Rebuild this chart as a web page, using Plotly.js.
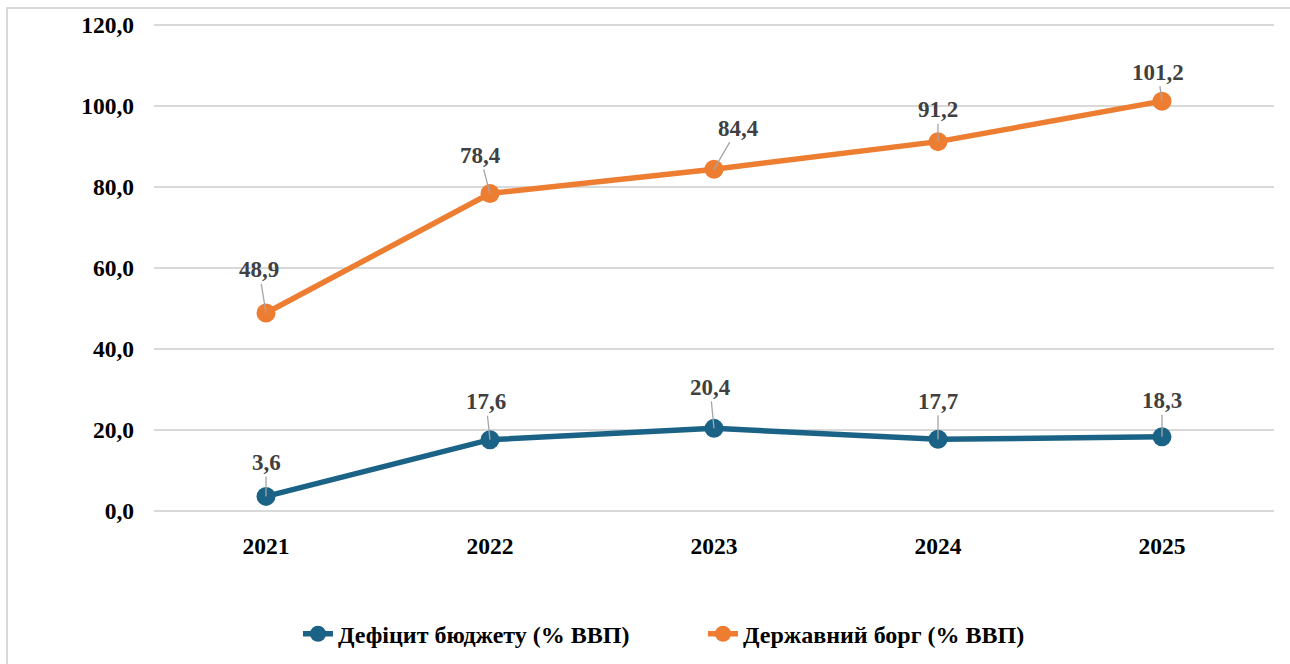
<!DOCTYPE html>
<html>
<head>
<meta charset="utf-8">
<script src="https://cdn.plot.ly/plotly-3.0.1.min.js"></script>
<style>
  html, body { margin: 0; padding: 0; background: #ffffff; }
  #wrap { position: relative; width: 1290px; height: 664px; }
  #chart { position: absolute; left: 0; top: 0; width: 1290px; height: 664px; }
  #frame { position: absolute; left: 6px; top: 7px; width: 1290px; height: 664px;
           border-left: 2px solid #d9d9d9; border-top: 2px solid #d9d9d9; pointer-events: none; }
</style>
</head>
<body>
<div id="wrap">
  <div id="chart"></div>
  <div id="frame"></div>
</div>
<script>
// ---- data ----
const years = ['2021', '2022', '2023', '2024', '2025'];
const deficitName = 'Дефіцит бюджету (% ВВП)';
const debtName = 'Державний борг (% ВВП)';
const deficit = [3.6, 17.6, 20.4, 17.7, 18.3];
const debt = [48.9, 78.4, 84.4, 91.2, 101.2];
const yTicks = [0, 20, 40, 60, 80, 100, 120];

// ---- label offsets (pixels, layout only) ----
const deficitLabelDx = [0, -4, -4, 0, 0];
const deficitLabelDy = [-34, -38, -41, -38, -36];
const debtLabelDx = [-7, -10, 24, 0, -4];
const debtLabelDy = [-43, -38, -41, -32, -29];

const blue = '#1b6386';
const orange = '#ed7d31';
const serif = 'Liberation Serif, Times New Roman, serif';

const fmt = v => v.toFixed(1).replace('.', ',');

const traces = [
  { x: years, y: deficit, name: deficitName, type: 'scatter', mode: 'lines+markers',
    line: { color: blue, width: 5.5 }, marker: { color: blue, size: 19 }, hoverinfo: 'skip' },
  { x: years, y: debt, name: debtName, type: 'scatter', mode: 'lines+markers',
    line: { color: orange, width: 5.5 }, marker: { color: orange, size: 19 }, hoverinfo: 'skip' }
];

function labels(xs, ys, dxs, dys) {
  return xs.map((x, i) => ({
    x: i, y: ys[i], xref: 'x', yref: 'y', text: fmt(ys[i]),
    showarrow: true, arrowhead: 0, arrowwidth: 1.3, arrowcolor: '#a6a6a6',
    ax: dxs[i], ay: dys[i], standoff: 0, startstandoff: 0,
    font: { family: serif, size: 23, color: '#404040', weight: 'bold' }
  }));
}

const layout = {
  width: 1290, height: 664,
  margin: { l: 154, r: 16, t: 23, b: 151 },
  paper_bgcolor: '#ffffff', plot_bgcolor: '#ffffff',
  separators: ', ',
  font: { family: serif, color: '#000000', size: 23, weight: 'bold' },
  showlegend: true,
  legend: { orientation: 'h', xref: 'container', yref: 'container',
            x: 0.231, xanchor: 'left', y: 0.045, yanchor: 'middle',
            entrywidth: 360, entrywidthmode: 'pixels',
            font: { family: serif, size: 24, color: '#000000', weight: 'bold' },
            tracegroupgap: 0 },
  xaxis: { type: 'category', range: [-0.5, years.length - 0.5], showgrid: false, zeroline: false, showline: false,
           ticks: '', ticklabelstandoff: 16,
           tickfont: { family: serif, size: 23.5, color: '#000000', weight: 'bold' } },
  yaxis: { range: [-0.5, 120.5], tickvals: yTicks, tickformat: '.1f', showgrid: true,
           gridcolor: '#d9d9d9', gridwidth: 1.5, zeroline: false, showline: false,
           ticks: '', ticklabelstandoff: 19,
           tickfont: { family: serif, size: 23.5, color: '#000000', weight: 'bold' } },
  annotations: labels(years, deficit, deficitLabelDx, deficitLabelDy)
    .concat(labels(years, debt, debtLabelDx, debtLabelDy))
};

Plotly.newPlot('chart', traces, layout, { displayModeBar: false, staticPlot: true });
</script>
</body>
</html>
